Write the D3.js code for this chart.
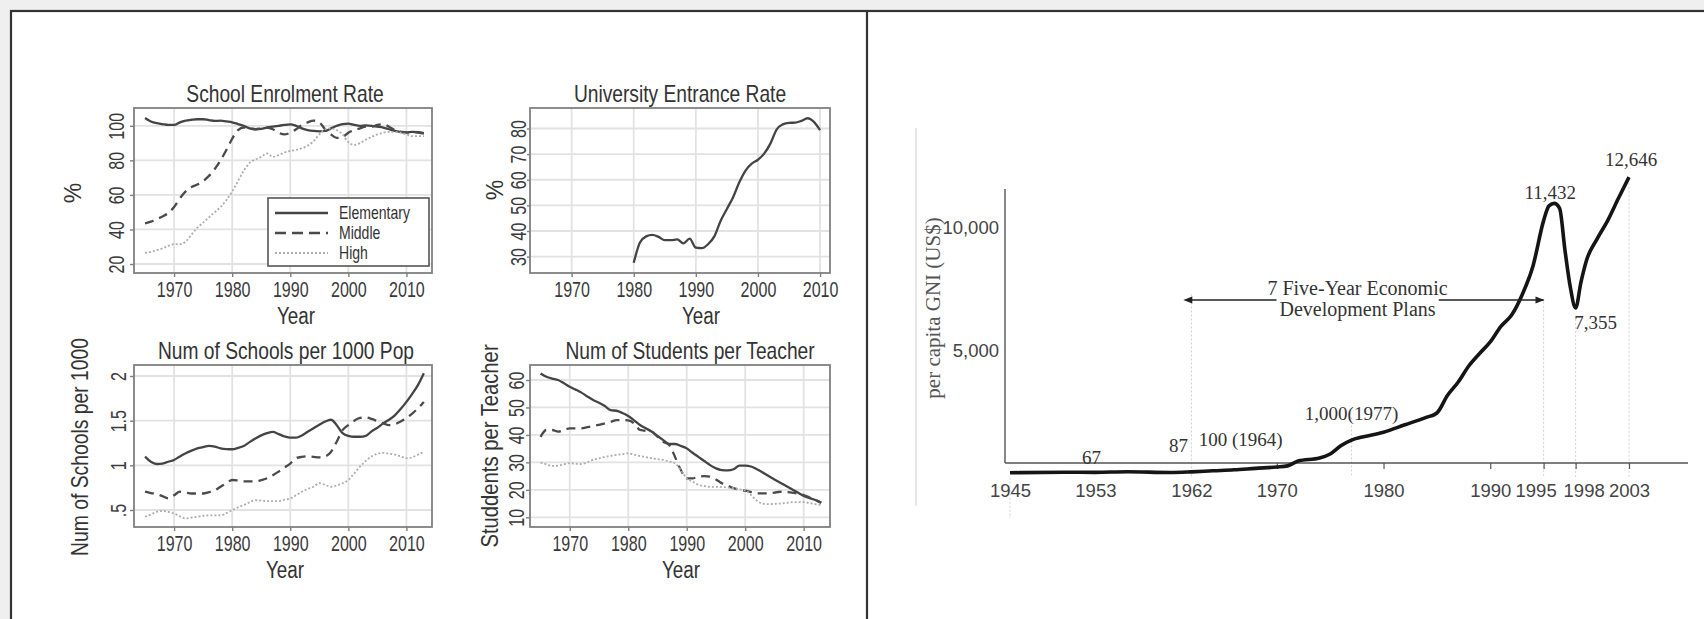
<!DOCTYPE html>
<html><head><meta charset="utf-8">
<script src="https://cdn.jsdelivr.net/npm/d3@7/dist/d3.min.js"></script>
<style>
html,body{margin:0;padding:0;background:#efefef;}
svg{display:block;}
.sans{font-family:'Liberation Sans',Arial,sans-serif;}
.serif{font-family:'Liberation Serif','DejaVu Serif',serif;}
</style></head><body>
<svg id="c" width="1704" height="619"></svg>
<script>
// ---------------- DATA ----------------
const years = d3.range(1965, 2014); // 1965..2013
const enrolElementary = [104.5,102.5,101.5,101,100.5, 100.5,102,103,103.5,103.8,103.8,103.3,102.8,103,102.5, 102,101,100,98.5,98,98.2,99,99.5,100,100.5, 100.8,100,98.5,97.5,97,96.8,97,98.5,100,101, 101.2,100.5,100,100.2,100,99.5,99,98,97,96.5, 96.2,96.5,96.3,95.8];
const enrolMiddle = [43.5,44.5,46,47.5,49.5, 53,58,62,64.5,66,68,71,75,80,86, 92.5,97.5,99,98.5,98,98.5,99,98,96,95, 96,98,100.5,102,103,102,98,95,93,93.5, 96,97.5,98.5,99.5,99.5,100.5,101,99.5,97.5,96.5, 96,96.5,96,95.5];
const enrolHigh = [26.5,27,28,29,30.5, 31.5,31.5,33,37,41,44,47,50,53,57, 62,68,74,78.5,80.5,82,84,82,83,84.5, 85.5,86,87,88.5,91,95,98,98.5,97.5,95, 90.5,89,90,92,93.5,95,96,96.5,96.5,96, 95,94,94,94];

const uniYears = d3.range(1980, 2011);
const uniRate = [27.6,35.5,37.9,38.5,37.7,36.4,36.4,36.7,35.2,37, 33.5,33.3,34.9,38,44,48.6,53.2,59,63.6,66.3, 67.8,70.2,74.1,79.6,81.6,82.2,82.3,83,84,82.6, 79.4];

const schoolsElementary = [1.097,1.04,1.015,1.02,1.04, 1.06,1.10,1.135,1.165,1.19,1.205,1.217,1.21,1.19,1.182, 1.18,1.195,1.217,1.26,1.30,1.335,1.36,1.375,1.35,1.325, 1.31,1.31,1.335,1.375,1.415,1.455,1.49,1.51,1.45,1.36, 1.33,1.32,1.32,1.33,1.38,1.42,1.47,1.51,1.56,1.63, 1.71,1.80,1.90,2.03];
const schoolsMiddle = [0.705,0.69,0.68,0.655,0.63, 0.665,0.705,0.695,0.685,0.685,0.685,0.70,0.72,0.76,0.80, 0.836,0.83,0.82,0.82,0.82,0.835,0.855,0.89,0.93,0.975, 1.02,1.08,1.095,1.10,1.095,1.09,1.10,1.15,1.265,1.395, 1.45,1.50,1.53,1.535,1.52,1.495,1.47,1.45,1.46,1.49, 1.53,1.58,1.64,1.71];
const schoolsHigh = [0.425,0.45,0.48,0.49,0.48, 0.46,0.43,0.405,0.415,0.425,0.435,0.44,0.44,0.44,0.465, 0.50,0.53,0.556,0.585,0.61,0.605,0.60,0.60,0.60,0.615, 0.63,0.665,0.705,0.735,0.76,0.80,0.78,0.76,0.775,0.80, 0.836,0.91,0.985,1.05,1.10,1.13,1.14,1.13,1.12,1.10, 1.08,1.09,1.12,1.15];

const ratioElementary = [62.4,61.2,60.5,60,58.8, 57.5,56.5,55.4,54,52.7,51.7,50.5,49,48.8,48, 46.9,45.3,43.6,42.4,41.2,39.6,38.1,36.7,36.7,36, 35.1,33.5,32,30.5,29,27.8,27.2,27.1,27.5,28.8, 28.8,28.5,27.5,26.3,25,23.8,22.6,21.4,20.2,19, 17.8,17,16.3,15.3];
const ratioMiddle = [39.3,41.8,41.8,41.2,41.8, 42.4,42.4,42.4,42.8,43.2,43.7,44.2,44.8,45.4,45.4, 45.3,44.2,41.8,41.5,41.2,39.4,37.5,36.3,32,27.2, 24.2,24.2,24.8,25,24.8,23.8,22.4,21.5,20.6,20.1, 19.7,19.2,18.7,18.7,18.7,19,19.3,19.2,19,18.6, 18.1,17.2,16.3,15.3];
const ratioHigh = [29.9,29.3,28.7,28.8,29.3, 29.7,29.5,29.4,30.1,30.9,31.5,32,32.4,32.7,33, 33.3,32.8,32.3,31.9,31.5,31.2,30.9,30.3,29.7,27.2, 24.2,23,21.8,21.4,21.1,21.1,21.1,20.8,20.6,20.2, 19.9,18.1,16,15,14.8,14.9,15,15.2,15.5,15.5, 15.5,15.2,14.8,14.5];

const seriesNames = ["Elementary", "Middle", "High"];
const xTicks = [1970, 1980, 1990, 2000, 2010];
const enrolTicks = [20, 40, 60, 80, 100];
const uniTicks = [30, 40, 50, 60, 70, 80];
const schoolTicks = [0.5, 1, 1.5, 2];
const schoolTickLabels = [".5", "1", "1.5", "2"];
const ratioTicks = [10, 20, 30, 40, 50, 60];

// per capita GNI (US$)
const gniYears =  [1945,1950,1953,1956,1960,1962,1964,1966,1968,1970,1971,1972,1974,1975,1976,1977,1978,1980,1982,1984,1985,1986,1987,1988,1989,1990,1991,1992,1993,1994,1995,1995.5,1996,1996.5,1997,1997.5,1998,1998.5,1999,2000,2001,2002,2003];
const gniValues = [50,70,67,90,60,87,130,170,230,285,330,530,650,813,1150,1380,1500,1700,2000,2300,2480,3200,3740,4400,4900,5370,6000,6460,7300,8450,10300,10900,11000,10800,9100,7600,6750,7800,8660,9550,10300,11200,12070];
const gniTickYears = [1945,1953,1962,1970,1980,1990,1995,1998,2003];
const gniYTicks = [5000, 10000];
const gniNotes = [
  {year:1953, value:67, text:"67"},
  {year:1962, value:87, text:"87"},
  {year:1964, value:100, text:"100 (1964)"},
  {year:1977, value:1000, text:"1,000(1977)"},
  {year:1996, value:11432, text:"11,432"},
  {year:1998, value:7355, text:"7,355"},
  {year:2003, value:12646, text:"12,646"}
];
const planText = ["7 Five-Year Economic", "Development Plans"];
const planYears = [1962, 1995];

// ---------------- DRAW ----------------
const svg = d3.select("#c");
svg.append("rect").attr("x",0).attr("y",0).attr("width",1704).attr("height",619).attr("fill","#efefef");
svg.append("rect").attr("x",11).attr("y",11).attr("width",1704).attr("height",619).attr("fill","#fff").attr("stroke","#333").attr("stroke-width",2.2);
svg.append("line").attr("x1",867).attr("x2",867).attr("y1",11).attr("y2",619).attr("stroke","#333").attr("stroke-width",2.2);

const lineStyles = {
  Elementary:{stroke:"#444", width:2.3, dash:null},
  Middle:{stroke:"#4a4a4a", width:2.3, dash:"9,6"},
  High:{stroke:"#adadad", width:1.8, dash:"2,2"}
};

// condensed text helper (the original uses a narrow sans face)
function ctext(g, x, y, str, size, sx, rot, anchor, fill){
  return g.append("text")
    .attr("transform", `translate(${x},${y})` + (rot?` rotate(${rot})`:"") + ` scale(${sx},1)`)
    .attr("text-anchor", anchor||"middle").attr("fill", fill||"#333")
    .style("font-size", size+"px").text(str);
}

function panel(o){
  const g = svg.append("g").attr("class","sans");
  const x = d3.scaleLinear().domain(o.xd).range([o.x0,o.x1]);
  const y = d3.scaleLinear().domain(o.yd).range([o.y1,o.y0]);
  g.selectAll(null).data(xTicks).join("line")
    .attr("x1",d=>x(d)).attr("x2",d=>x(d)).attr("y1",o.y0).attr("y2",o.y1)
    .attr("stroke","#e2e2e2").attr("stroke-width",1.8);
  g.selectAll(null).data(o.yt).join("line")
    .attr("y1",d=>y(d)).attr("y2",d=>y(d)).attr("x1",o.x0).attr("x2",o.x1)
    .attr("stroke","#e2e2e2").attr("stroke-width",1.8);
  o.series.forEach(s=>{
    const st = lineStyles[s.name];
    const pts = s.values.map((v,i)=>[s.years[i],v]);
    g.append("path").datum(pts)
      .attr("d", d3.line().x(d=>x(d[0])).y(d=>y(d[1])).curve(d3.curveMonotoneX))
      .attr("fill","none").attr("stroke",st.stroke).attr("stroke-width",st.width)
      .attr("stroke-dasharray",st.dash).attr("stroke-linejoin","round");
  });
  g.append("rect").attr("x",o.x0).attr("y",o.y0).attr("width",o.x1-o.x0).attr("height",o.y1-o.y0)
    .attr("fill","none").attr("stroke","#808080").attr("stroke-width",1.8);
  const ax = g.append("g").attr("transform",`translate(0,${o.y1})`)
    .call(d3.axisBottom(x).tickValues(xTicks).tickSize(4).tickPadding(4).tickFormat(d3.format("d")));
  ax.select(".domain").remove();
  ax.selectAll(".tick line").attr("stroke","#808080").attr("stroke-width",1.4);
  ax.selectAll("text").attr("fill","#3a3a3a").style("font-size","22px").style("font-family","inherit")
    .attr("transform","scale(0.73,1)");
  const ay = g.append("g").attr("transform",`translate(${o.x0},0)`)
    .call(d3.axisLeft(y).tickValues(o.yt).tickSize(o.ytick==null?4:o.ytick).tickFormat((d,i)=>o.ytl?o.ytl[i]:d3.format("d")(d)));
  ay.select(".domain").remove();
  ay.selectAll(".tick line").attr("stroke","#808080").attr("stroke-width",1.4);
  ay.selectAll("text").attr("fill","#3a3a3a").style("font-size","22px").style("font-family","inherit")
    .attr("transform","rotate(-90) scale(0.73,1)").attr("x",0).attr("y",-o.ylOff).attr("dy",0).attr("text-anchor","middle");
  ctext(g, o.tx, o.y0-6, o.title, 24, 0.8);
  ctext(g, o.yrx, o.y1+51, "Year", 23, 0.82);
  ctext(g, o.ylx, o.yly, o.ylab, 23, o.ylsx||0.86, -90).attr("dy","0.35em");
  return {g,x,y};
}

const p1 = panel({x0:134,x1:432,y0:108,y1:273,xd:[1963.1,2014.4],yd:[14.8,110.3],yt:enrolTicks,ylOff:10,
  title:"School Enrolment Rate",tx:285,yrx:296,ylab:"%",ylsx:1,ylx:73,yly:193,
  series:[{name:"Elementary",years,values:enrolElementary},{name:"Middle",years,values:enrolMiddle},{name:"High",years,values:enrolHigh}]});
const p2 = panel({x0:530,x1:830,y0:108,y1:273,xd:[1963.3,2011.6],yd:[23.6,88],yt:uniTicks,ylOff:4,ytick:3,
  title:"University Entrance Rate",tx:680,yrx:701,ylab:"%",ylsx:1,ylx:495,yly:190,
  series:[{name:"Elementary",years:uniYears,values:uniRate}]});
const p3 = panel({x0:134,x1:432,y0:365,y1:527,xd:[1963.1,2014.4],yd:[0.31,2.123],yt:schoolTicks,ytl:schoolTickLabels,ylOff:8,
  title:"Num of Schools per 1000 Pop",tx:286,yrx:285,ylab:"Num of Schools per 1000",ylsx:0.84,ylx:80,yly:447,
  series:[{name:"Elementary",years,values:schoolsElementary},{name:"Middle",years,values:schoolsMiddle},{name:"High",years,values:schoolsHigh}]});
const p4 = panel({x0:530,x1:830,y0:365,y1:527,xd:[1963.2,2014.5],yd:[6.47,65.46],yt:ratioTicks,ylOff:6,
  title:"Num of Students per Teacher",tx:690,yrx:681,ylab:"Studdents per Teacher",ylsx:0.88,ylx:490,yly:446,
  series:[{name:"Elementary",years,values:ratioElementary},{name:"Middle",years,values:ratioMiddle},{name:"High",years,values:ratioHigh}]});

// legend in panel 1
(function(){
  const g = p1.g.append("g");
  g.append("rect").attr("x",268).attr("y",198).attr("width",161).attr("height",68)
    .attr("fill","#fff").attr("stroke","#555").attr("stroke-width",1.6);
  seriesNames.forEach((n,i)=>{
    const st = lineStyles[n];
    const yy = 213 + i*20;
    g.append("line").attr("x1",275).attr("x2",328).attr("y1",yy).attr("y2",yy)
      .attr("stroke",st.stroke).attr("stroke-width",st.width+0.4)
      .attr("stroke-dasharray",n==="Middle"?"11,6":st.dash);
    ctext(g, 339, yy, n, 18, 0.78, 0, "start").attr("dy","0.35em");
  });
})();

// ---------------- right chart ----------------
(function(){
  const g = svg.append("g").attr("class","serif");
  g.append("line").attr("x1",916).attr("x2",916).attr("y1",128).attr("y2",506).attr("stroke","#e6e6e6").attr("stroke-width",2);

  const x = d3.scaleLinear().domain([1945,2003]).range([1010,1629]);
  const y = d3.scaleLinear().domain([0,10000]).range([474,228]);
  const axisY = 463, axisX = 1005;

  const guides = [
    {year:1945, from:-1800, to:-150},
    {year:1962, from:-150, to:7300},
    {year:1977, from:-50, to:2300},
    {year:1995, from:-150, to:7000},
    {year:1998, from:-150, to:6300},
    {year:2003, from:-150, to:12000}
  ];
  g.selectAll(null).data(guides).join("line")
    .attr("x1",d=>x(d.year)).attr("x2",d=>x(d.year))
    .attr("y1",d=>Math.min(y(d.to),axisY+15)).attr("y2",d=>y(d.from))
    .attr("stroke","#d2d2d2").attr("stroke-width",1).attr("stroke-dasharray","2,2");

  g.append("line").attr("x1",axisX).attr("x2",axisX).attr("y1",189).attr("y2",axisY).attr("stroke","#555").attr("stroke-width",1.4);
  g.append("line").attr("x1",axisX).attr("x2",1688).attr("y1",axisY).attr("y2",axisY).attr("stroke","#555").attr("stroke-width",1.4);

  const ay = g.append("g").attr("transform",`translate(${axisX},0)`)
    .call(d3.axisLeft(y).tickValues(gniYTicks).tickSize(0).tickPadding(6).tickFormat(d3.format(",")));
  ay.select(".domain").remove();
  ay.selectAll("text").attr("fill","#444").style("font-size","18.5px").style("font-family","inherit");

  const labelShift = {1995:-8, 1998:8};
  const ax = g.append("g").attr("transform",`translate(0,${axisY})`)
    .call(d3.axisBottom(x).tickValues(gniTickYears).tickSize(6).tickPadding(15).tickFormat(d3.format("d")));
  ax.select(".domain").remove();
  ax.selectAll(".tick line").attr("stroke","#555").attr("stroke-width",1.2)
    .attr("opacity",d=>d<1965?0:1);
  ax.selectAll("text").attr("fill","#444").style("font-size","18.5px").style("font-family","inherit")
    .attr("dx",d=>labelShift[d]||0);

  g.append("text").attr("transform","translate(933,308) rotate(-90)").attr("text-anchor","middle")
    .attr("dy","0.35em").attr("fill","#555").style("font-size","21px").text("per capita GNI (US$)");

  const pts = gniYears.map((yr,i)=>[yr,gniValues[i]]);
  g.append("path").datum(pts)
    .attr("d", d3.line().x(d=>x(d[0])).y(d=>y(d[1])).curve(d3.curveMonotoneX))
    .attr("fill","none").attr("stroke","#151515").attr("stroke-width",3.6).attr("stroke-linejoin","round");

  // value notes: low values sit just above the baseline, high values next to the curve
  const noteStyle = {
    "67":{dx:-4,base:"axis",off:1,anchor:"middle"},
    "87":{dx:-13,base:"axis",off:-11,anchor:"middle"},
    "100 (1964)":{dx:-14,base:"axis",off:-17,anchor:"start"},
    "1,000(1977)":{dx:0,base:"axis",off:-43,anchor:"middle"},
    "11,432":{dx:-4,base:"curve",at:11000,off:-4,anchor:"middle"},
    "7,355":{dx:20,base:"curve",at:6750,off:21,anchor:"middle"},
    "12,646":{dx:2,base:"curve",at:12070,off:-11,anchor:"middle"}
  };
  gniNotes.forEach(n=>{
    const s = noteStyle[n.text];
    const yy = s.base==="axis" ? axisY + s.off : y(s.at) + s.off;
    g.append("text").attr("x",x(n.year)+s.dx).attr("y",yy)
      .attr("text-anchor",s.anchor).attr("fill","#333").style("font-size","19px").text(n.text);
  });

  const defs = svg.append("defs");
  ["s","e"].forEach(k=>{
    defs.append("marker").attr("id","ah"+k).attr("viewBox","0 0 10 10").attr("refX",k==="e"?9:1).attr("refY",5)
      .attr("markerWidth",10).attr("markerHeight",9).attr("orient","auto-start-reverse").attr("markerUnits","userSpaceOnUse")
      .append("path").attr("d","M0,1 L10,5 L0,9 Z").attr("fill","#222");
  });
  const ax0 = x(planYears[0]), ax1 = x(planYears[1]), ayy = 300, mid = (ax0+ax1)/2 - 10;
  g.append("text").attr("x",mid).attr("y",ayy-5).attr("text-anchor","middle").attr("fill","#333").style("font-size","20px").text(planText[0]);
  const t2 = g.append("text").attr("x",mid).attr("y",ayy+16).attr("text-anchor","middle").attr("fill","#333").style("font-size","20px").text(planText[1]);
  const b = t2.node().getBBox();
  g.append("line").attr("x1",ax0).attr("x2",b.x-3).attr("y1",ayy).attr("y2",ayy).attr("stroke","#222").attr("stroke-width",1.5).attr("marker-start","url(#ahs)");
  g.append("line").attr("x1",b.x+b.width+3).attr("x2",ax1).attr("y1",ayy).attr("y2",ayy).attr("stroke","#222").attr("stroke-width",1.5).attr("marker-end","url(#ahe)");
})();
</script>
</body></html>
